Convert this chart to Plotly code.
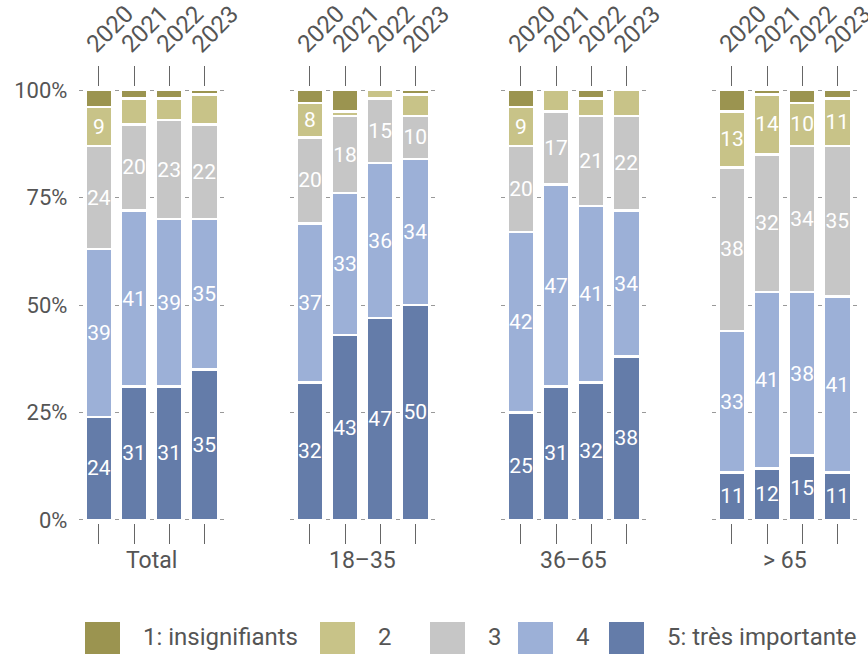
import plotly.graph_objects as go
from plotly.subplots import make_subplots

groups = ["Total", "18–35", "36–65", "> 65"]
years = ["2020", "2021", "2022", "2023"]
categories = ["1: insignifiants", "2", "3", "4", "5: très importante"]
colors = ["#9b9450", "#c8c388", "#c6c6c6", "#9cb0d7", "#647ca9"]

# values in %, group-major: Total, 18–35, 36–65, > 65 (each 2020..2023)
note_1 = [4, 2, 2, 1, 3, 5, 0, 1, 4, 0, 2, 0, 5, 1, 3, 2]
note_2 = [9, 6, 5, 7, 8, 1, 2, 5, 9, 5, 4, 6, 13, 14, 10, 11]
note_3 = [24, 20, 23, 22, 20, 18, 15, 10, 20, 17, 21, 22, 38, 32, 34, 35]
note_4 = [39, 41, 39, 35, 37, 33, 36, 34, 42, 47, 41, 34, 33, 41, 38, 41]
note_5 = [24, 31, 31, 35, 32, 43, 47, 50, 25, 31, 32, 38, 11, 12, 15, 11]
series = [note_1, note_2, note_3, note_4, note_5]

FONT = "Roboto"
TXT = "#555555"
W, H = 868, 654
PX_UNIT = 35.1
XPAD = 0.557
GROUP_LEFT = [79.4, 290.4, 501.4, 712.4]
group_w = (3 + 2 * XPAD) * PX_UNIT
PLOT_H = 436  # px between margins

fig = make_subplots(rows=1, cols=4, shared_yaxes=True)

# stack from "5" at the bottom up to "1" at the top
for k in reversed(range(len(categories))):
    vals = series[k]
    for g in range(len(groups)):
        seg = vals[g * 4:(g + 1) * 4]
        fig.add_trace(go.Bar(
            x=years, y=seg,
            name=categories[k],
            marker=dict(color=colors[k], line=dict(color="white", width=2.5)),
            text=[str(v) if v >= 8 else "" for v in seg],
            textposition="inside",
            insidetextanchor="middle",
            textangle=0,
            constraintext="none",
            textfont=dict(color="white", size=21, family=FONT),
            showlegend=False,
            hoverinfo="skip",
        ), row=1, col=g + 1)

for g in range(len(groups)):
    left = GROUP_LEFT[g]
    xname = "x" if g == 0 else "x%d" % (g + 1)
    fig.update_xaxes(
        domain=[left / W, (left + group_w) / W],
        type="category",
        range=[-XPAD, 3 + XPAD],
        side="top",
        showticklabels=False,
        ticks="outside", ticklen=20, tickcolor="#666", tickwidth=1,
        mirror="ticks",
        showgrid=False, showline=False, zeroline=False,
        automargin=False,
        row=1, col=g + 1,
    )
    # rotated year labels above the ticks (x = category index)
    for i, yr in enumerate(years):
        fig.add_annotation(
            text=yr, xref=xname, x=i, xshift=11,
            yref="paper", y=(523 - 29) / PLOT_H,
            textangle=-45, showarrow=False,
            xanchor="center", yanchor="middle",
            font=dict(size=24, color=TXT, family=FONT),
        )
    fig.add_annotation(
        text=groups[g], xref=xname + " domain", x=0.5,
        yref="paper", y=-37 / PLOT_H, showarrow=False, yanchor="middle",
        font=dict(size=23, color=TXT, family=FONT),
    )

fig.update_yaxes(
    range=[-0.7, 100.7],
    tickvals=[0, 25, 50, 75, 100],
    ticktext=["0%", "25%", "50%", "75%", "100%"],
    showgrid=True, gridcolor="#999999", gridwidth=1,
    griddash="4px,%.1fpx" % (PX_UNIT - 4),
    zeroline=False, showline=False, ticks="",
    automargin=False,
    tickfont=dict(size=22, color=TXT, family=FONT),
    ticklabelstandoff=11,
)

# legend drawn as swatches and labels below the plot
legend_x = [85, 320, 430, 518, 609]
for k in range(len(categories)):
    x0 = legend_x[k]
    fig.add_shape(type="rect", xref="paper", yref="paper",
                  x0=x0 / W, x1=(x0 + 35) / W,
                  y0=(523 - 622) / PLOT_H, y1=(523 - 656) / PLOT_H,
                  fillcolor=colors[k], line=dict(width=0))
    fig.add_annotation(text=categories[k], xref="paper", yref="paper",
                       x=(x0 + 56) / W, y=(523 - 637) / PLOT_H,
                       xanchor="left", yanchor="middle", showarrow=False,
                       font=dict(size=24, color=TXT, family=FONT))

fig.update_layout(
    barmode="stack",
    bargap=0.23,
    width=W, height=H,
    margin=dict(l=0, r=0, t=87, b=131, autoexpand=False),
    plot_bgcolor="white", paper_bgcolor="white",
    font=dict(family=FONT, color=TXT),
)

fig.write_html("out.html", config={"displayModeBar": False},
               post_script="document.body.style.margin='0px';")
